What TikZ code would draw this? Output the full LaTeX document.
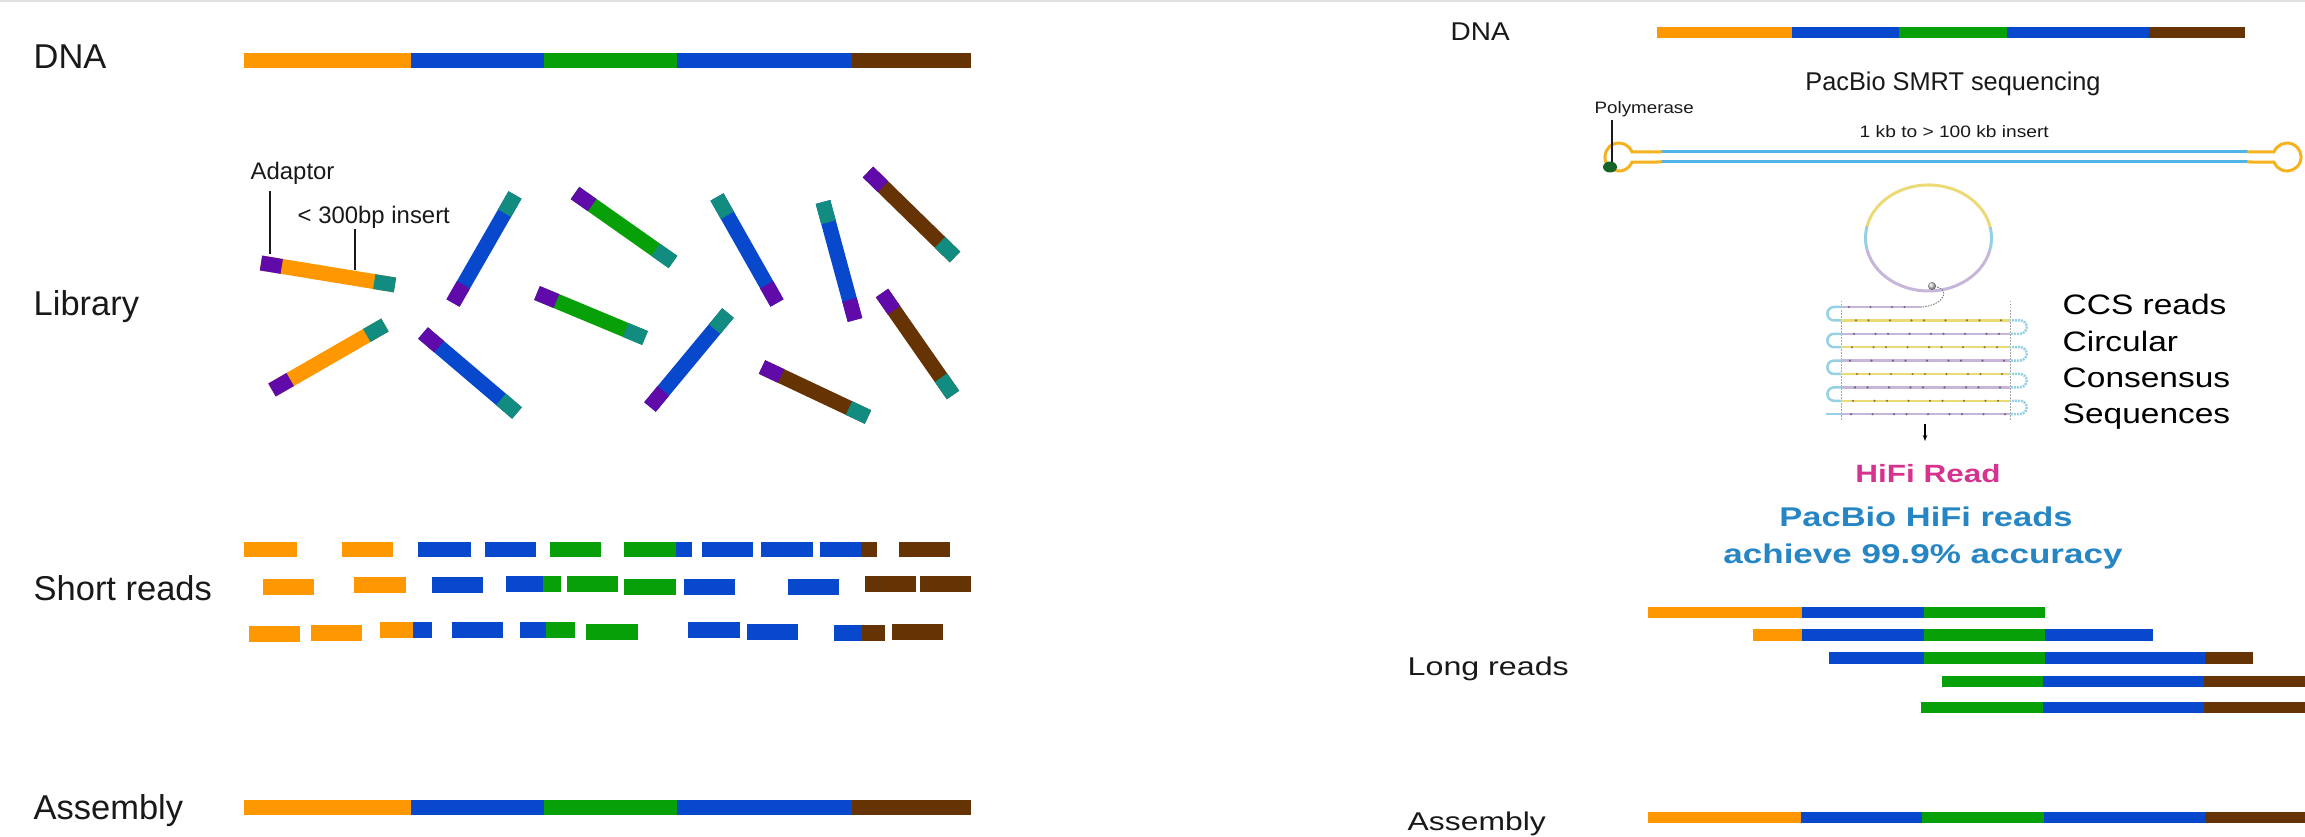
\documentclass[tikz,border=0pt]{standalone}
\usepackage{fontspec}
\setmainfont{Liberation Sans}
\usetikzlibrary{calc,arrows.meta}

% sequence colours
\definecolor{segorange}{RGB}{255,152,0}
\definecolor{segblue}{RGB}{8,72,204}
\definecolor{seggreen}{RGB}{8,160,8}
\definecolor{segbrown}{RGB}{102,52,4}
\definecolor{adapt}{RGB}{96,10,170}
\definecolor{adaptb}{RGB}{18,140,128}
% SMRTbell and CCS colours
\definecolor{strand}{RGB}{80,180,232}
\definecolor{hairpin}{RGB}{246,178,30}
\definecolor{polgreen}{RGB}{22,100,40}
\definecolor{ccsyellow}{RGB}{236,218,118}
\definecolor{ccslav}{RGB}{200,182,218}
\definecolor{ccsblue}{RGB}{150,208,228}
\definecolor{hifipink}{RGB}{214,50,142}
\definecolor{hifiblue}{RGB}{38,134,196}
\definecolor{topline}{RGB}{226,226,226}
\definecolor{ink}{RGB}{25,25,25}

% horizontal bar made of coloured pieces: top, bottom, {x0/x1/colour,...}
\newcommand{\segs}[3]{%
  \foreach \xa/\xb/\cl in {#3}{\fill[fill=\cl] (\xa,#1) rectangle (\xb,#2);}}

% library fragment: name, adaptor end, other end, insert colour
\newcommand{\frag}[4]{%
  \coordinate (#1a) at (#2);
  \coordinate (#1b) at (#3);
  \coordinate (#1p) at ($(#1a)!0.21cm!(#1b)$);
  \coordinate (#1q) at ($(#1b)!0.21cm!(#1a)$);
  \draw[fragline, #4] (#1a) -- (#1b);
  \draw[fragline, adapt] (#1a) -- (#1p);
  \draw[fragline, adaptb] (#1q) -- (#1b);}

\tikzset{
  fragline/.style={line width=0.15cm},
  lbl/.style={inner sep=0pt, anchor=base west, text=ink, font=\fontsize{9.8}{11}\selectfont},
  note/.style={inner sep=0pt, anchor=base west, text=ink, font=\fontsize{6.8}{8}\selectfont},
  rlbl/.style={inner sep=0pt, anchor=base west, text=ink, font=\fontsize{7.3}{9}\selectfont},
  small/.style={inner sep=0pt, anchor=base west, text=ink, font=\fontsize{4.7}{6}\selectfont},
  ccstext/.style={inner sep=0pt, anchor=base west, text=black, font=\fontsize{8}{10.24}\selectfont},
  leader/.style={draw=ink, line width=0.018cm},
  ccsrow/.style={line width=0.025cm},
}

\begin{document}
\begin{tikzpicture}[x=0.01cm, y=-0.01cm]
\fill[white] (0,0) rectangle (2305,837);
\useasboundingbox (0,0) rectangle (2305,837);
\fill[topline] (0,0) rectangle (2305,2.5);

%% ---------------- short-read workflow ----------------
\node[lbl] (dnaL) at (33,69) {DNA};
\node[lbl] (libL) at (33,316) {Library};
\node[lbl] (shortL) at (33,601) {Short reads};
\node[lbl] (asmL) at (33,819) {Assembly};

\segs{53}{68}{244/411/segorange, 411/544/segblue, 544/677/seggreen, 677/852/segblue, 852/971/segbrown}
\segs{800}{815}{244/411/segorange, 411/544/segblue, 544/677/seggreen, 677/852/segblue, 852/971/segbrown}

% library fragments
\frag{f1}{261,263}{395,285}{segorange}
\frag{f2}{272,390}{385,325}{segorange}
\frag{f3}{453,303}{515,195}{segblue}
\frag{f4}{423,333}{517,413}{segblue}
\frag{f5}{575,193}{673,262}{seggreen}
\frag{f6}{537,293}{645,338}{seggreen}
\frag{f7}{777,303}{717,197}{segblue}
\frag{f8}{650,407}{728,313}{segblue}
\frag{f9}{855,320}{823,202}{segblue}
\frag{f10}{868,172}{955,257}{segbrown}
\frag{f11}{762,367}{868,417}{segbrown}
\frag{f12}{882,293}{953,395}{segbrown}

\node[note] (adaptor) at (250,180) {Adaptor};
\node[note] (insert) at (297,224) {< 300bp insert};
\coordinate (adtop) at (270,191);
\coordinate (adend) at (270,254);
\coordinate (intop) at (355,229);
\coordinate (inend) at (355,270);
\draw[leader] (adtop) -- (adend);
\draw[leader] (intop) -- (inend);

% short reads
\segs{542}{557}{244/297/segorange, 342/393/segorange, 418/471/segblue, 485/536/segblue, 550/601/seggreen, 624/676/seggreen, 676/692/segblue, 702/753/segblue, 761/813/segblue, 820/861/segblue, 861/877/segbrown, 899/950/segbrown}
\segs{579}{595}{263/314/segorange, 624/676/seggreen, 684/735/segblue, 788/839/segblue}
\segs{577}{593}{354/406/segorange, 432/483/segblue}
\segs{576}{592}{506/543/segblue, 543/561/seggreen, 567/618/seggreen, 865/916/segbrown, 920/971/segbrown}
\segs{626}{642}{249/300/segorange}
\segs{625}{641}{311/362/segorange, 834/862/segblue, 862/885/segbrown}
\segs{622}{638}{380/413/segorange, 413/432/segblue, 452/503/segblue, 520/546/segblue, 546/575/seggreen, 688/740/segblue}
\segs{624}{640}{586/638/seggreen, 747/798/segblue, 892/943/segbrown}

%% ---------------- long-read workflow ----------------
\node[rlbl] (dnaR) at (1450,41) {\resizebox{0.59cm}{\height}{DNA}};
\segs{27}{38}{1657/1792/segorange, 1792/1899/segblue, 1899/2007/seggreen, 2007/2149/segblue, 2149/2245/segbrown}

\node[rlbl, anchor=base] (smrt) at (1953,91) {\resizebox{2.95cm}{\height}{PacBio SMRT sequencing}};
\node[small] (polym) at (1594,114) {\resizebox{0.99cm}{\height}{Polymerase}};
\node[small] (insR) at (1859,138) {\resizebox{1.89cm}{\height}{1 kb to > 100 kb insert}};

% SMRTbell template
\draw[strand, line width=0.03cm] (1661,152) -- (2248,152);
\draw[strand, line width=0.03cm] (1661,162) -- (2248,162);
\draw[hairpin, line width=0.03cm] (1662,152) -- (1632,152)
  arc[start angle=-21, end angle=-339, radius=14] -- (1662,162);
\draw[hairpin, line width=0.03cm] (2247,152) -- (2274,152)
  arc[start angle=-159, end angle=159, radius=14] -- (2247,162);
\coordinate (poltop) at (1612,120);
\coordinate (polend) at (1612,163);
\draw[leader] (poltop) -- (polend);
\fill[polgreen] (1610,167) ellipse[x radius=7, y radius=5.5];

% circular consensus: circle
\coordinate (cc) at (1928.5,238);
\draw[ccslav, line width=0.03cm] (cc) ++(13:63 and 53) arc[start angle=13, end angle=167, x radius=63, y radius=53];
\draw[ccsblue, line width=0.03cm] (cc) ++(167:63 and 53) arc[start angle=167, end angle=193, x radius=63, y radius=53];
\draw[ccsyellow, line width=0.03cm] (cc) ++(193:63 and 53) arc[start angle=193, end angle=348, x radius=63, y radius=53];
\draw[ccsblue, line width=0.03cm] (cc) ++(-12:63 and 53) arc[start angle=-12, end angle=13, x radius=63, y radius=53];
\coordinate (blob) at (1932,286);
\coordinate (row0end) at (1922,307);
\draw[gray, line width=0.01cm, dash pattern=on 0.015cm off 0.012cm] (blob) .. controls (1952,288) and (1945,305) .. (row0end);
\shade[ball color=gray!40] (blob) circle[radius=4];

% circular consensus: passes
\draw[gray!70, line width=0.01cm, dash pattern=on 0.015cm off 0.015cm] (1841,301) -- (1841,421);
\draw[gray!70, line width=0.01cm, dash pattern=on 0.015cm off 0.015cm] (2010,301) -- (2010,421);
\foreach \i in {0,2,4,6}{
  \pgfmathsetmacro{\ya}{307+13.4*\i}
  \pgfmathsetmacro{\yb}{\ya+13.4}
  \draw[ccsblue, ccsrow] (1842,\ya) -- (1834,\ya) arc[start angle=-90, end angle=-270, radius=6.7] -- (1842,\yb);
}
\foreach \i in {1,3,5,7}{
  \pgfmathsetmacro{\ya}{307+13.4*\i}
  \pgfmathsetmacro{\yb}{\ya+13.4}
  \draw[ccsblue, ccsrow, dash pattern=on 0.02cm off 0.01cm] (2009,\ya) -- (2020,\ya) arc[start angle=-90, end angle=90, radius=6.7] -- (2009,\yb);
}
\draw[ccsblue, ccsrow] (1826,414.2) -- (1842,414.2);
\foreach \i in {0,...,8}{
  \pgfmathsetmacro{\yy}{307+13.4*\i}
  \pgfmathtruncatemacro{\odd}{mod(\i,2)}
  \ifnum\odd=1 \def\rc{ccsyellow}\else\def\rc{ccslav}\fi
  \ifnum\i=0 \def\xe{1922}\def\nd{3}\else\def\xe{2010}\def\nd{8}\fi
  \draw[ccsrow, draw=\rc] (1841,\yy) -- (\xe,\yy);
  \foreach \k in {0,...,\nd}{
    \pgfmathsetmacro{\xd}{1849+18.5*\k+mod(7*\i+3*\k,9)}
    \fill[\rc!55!black] (\xd,\yy) circle[radius=1.2];
  }
}
\coordinate (arrtop) at (1925,424);
\coordinate (arrend) at (1925,441);
\draw[black, line width=0.012cm, -{Stealth[length=0.06cm, width=0.045cm]}] (arrtop) -- (arrend);

\node[ccstext] (ccs) at (2062,315) {\scalebox{1.19}[1]{\begin{tabular}[t]{@{}l@{}}CCS reads\\Circular\\Consensus\\Sequences\end{tabular}}};

\node[inner sep=0pt, anchor=base, text=hifipink, font=\fontsize{7.1}{9}\selectfont\bfseries] (hifi) at (1928,483) {\resizebox{1.45cm}{\height}{HiFi Read}};
\node[inner sep=0pt, anchor=base, text=hifiblue, font=\fontsize{7.7}{9}\selectfont\bfseries] (acc1) at (1926,527) {\resizebox{2.93cm}{\height}{PacBio HiFi reads}};
\node[inner sep=0pt, anchor=base, text=hifiblue, font=\fontsize{7.7}{9}\selectfont\bfseries] (acc2) at (1923,564) {\resizebox{3.99cm}{\height}{achieve 99.9\% accuracy}};

% long reads and assembly
\node[rlbl] (longR) at (1407,676) {\resizebox{1.61cm}{\height}{Long reads}};
\node[rlbl] (asmR) at (1407,831) {\resizebox{1.38cm}{\height}{Assembly}};
\segs{607}{618}{1648/1802/segorange, 1802/1924/segblue, 1924/2045/seggreen}
\segs{629}{641}{1753/1802/segorange, 1802/1924/segblue, 1924/2045/seggreen, 2045/2153/segblue}
\segs{652}{664}{1829/1924/segblue, 1924/2045/seggreen, 2045/2205/segblue, 2205/2253/segbrown}
\segs{676}{687}{1942/2043/seggreen, 2043/2204/segblue, 2204/2305/segbrown}
\segs{702}{713}{1921/2043/seggreen, 2043/2204/segblue, 2204/2305/segbrown}
\segs{812}{823}{1648/1801/segorange, 1801/1922/segblue, 1922/2044/seggreen, 2044/2205/segblue, 2205/2305/segbrown}
\end{tikzpicture}
\end{document}
